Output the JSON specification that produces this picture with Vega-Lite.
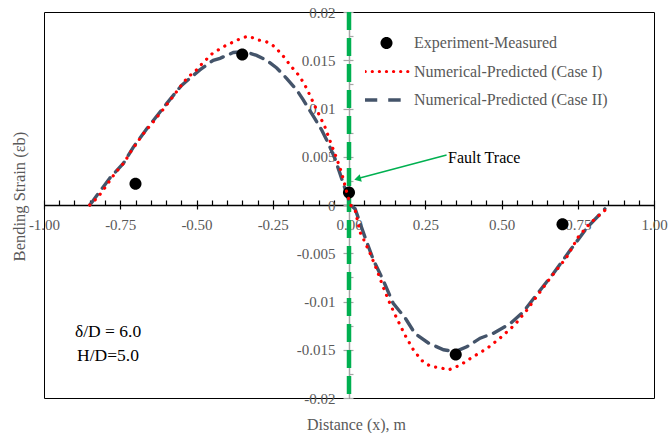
{
  "$schema": "https://vega.github.io/schema/vega-lite/v6.json",
  "autosize": "none",
  "width": 610,
  "height": 386,
  "padding": {"left": 44, "top": 12, "right": 14, "bottom": 35},
  "background": "white",
  "config": {
    "view": {"stroke": "black", "strokeWidth": 1},
    "font": "Liberation Serif",
    "axis": {"grid": false, "labelFont": "Liberation Serif", "titleFont": "Liberation Serif", "titleFontWeight": "normal", "labelFlush": false},
    "legend": {"labelFont": "Liberation Serif"},
    "style": {"guide-label": {"font": "Liberation Serif"}, "guide-title": {"font": "Liberation Serif"}}
  },
  "data": {
    "values": [
      {"series": "Experiment-Measured", "x": -0.70, "y": 0.0022},
      {"series": "Experiment-Measured", "x": -0.35, "y": 0.0156},
      {"series": "Experiment-Measured", "x": 0.0, "y": 0.0013},
      {"series": "Experiment-Measured", "x": 0.35, "y": -0.0155},
      {"series": "Experiment-Measured", "x": 0.70, "y": -0.0020},

      {"series": "Numerical-Predicted (Case I)", "x": -0.850, "y": 0.0000},
      {"series": "Numerical-Predicted (Case I)", "x": -0.830, "y": 0.0006},
      {"series": "Numerical-Predicted (Case I)", "x": -0.811, "y": 0.0013},
      {"series": "Numerical-Predicted (Case I)", "x": -0.767, "y": 0.0033},
      {"series": "Numerical-Predicted (Case I)", "x": -0.737, "y": 0.0044},
      {"series": "Numerical-Predicted (Case I)", "x": -0.716, "y": 0.0055},
      {"series": "Numerical-Predicted (Case I)", "x": -0.674, "y": 0.0074},
      {"series": "Numerical-Predicted (Case I)", "x": -0.642, "y": 0.0086},
      {"series": "Numerical-Predicted (Case I)", "x": -0.612, "y": 0.0098},
      {"series": "Numerical-Predicted (Case I)", "x": -0.585, "y": 0.0109},
      {"series": "Numerical-Predicted (Case I)", "x": -0.557, "y": 0.0121},
      {"series": "Numerical-Predicted (Case I)", "x": -0.530, "y": 0.0132},
      {"series": "Numerical-Predicted (Case I)", "x": -0.503, "y": 0.0139},
      {"series": "Numerical-Predicted (Case I)", "x": -0.483, "y": 0.0146},
      {"series": "Numerical-Predicted (Case I)", "x": -0.448, "y": 0.0157},
      {"series": "Numerical-Predicted (Case I)", "x": -0.412, "y": 0.0164},
      {"series": "Numerical-Predicted (Case I)", "x": -0.379, "y": 0.0169},
      {"series": "Numerical-Predicted (Case I)", "x": -0.352, "y": 0.0173},
      {"series": "Numerical-Predicted (Case I)", "x": -0.330, "y": 0.0175},
      {"series": "Numerical-Predicted (Case I)", "x": -0.297, "y": 0.0171},
      {"series": "Numerical-Predicted (Case I)", "x": -0.270, "y": 0.0169},
      {"series": "Numerical-Predicted (Case I)", "x": -0.243, "y": 0.0164},
      {"series": "Numerical-Predicted (Case I)", "x": -0.215, "y": 0.0154},
      {"series": "Numerical-Predicted (Case I)", "x": -0.188, "y": 0.0143},
      {"series": "Numerical-Predicted (Case I)", "x": -0.161, "y": 0.0133},
      {"series": "Numerical-Predicted (Case I)", "x": -0.139, "y": 0.0121},
      {"series": "Numerical-Predicted (Case I)", "x": -0.111, "y": 0.0102},
      {"series": "Numerical-Predicted (Case I)", "x": -0.079, "y": 0.0081},
      {"series": "Numerical-Predicted (Case I)", "x": -0.057, "y": 0.0062},
      {"series": "Numerical-Predicted (Case I)", "x": -0.040, "y": 0.0048},
      {"series": "Numerical-Predicted (Case I)", "x": -0.024, "y": 0.0033},
      {"series": "Numerical-Predicted (Case I)", "x": -0.008, "y": 0.0014},
      {"series": "Numerical-Predicted (Case I)", "x": 0.005, "y": 0.0000},
      {"series": "Numerical-Predicted (Case I)", "x": 0.020, "y": -0.0005},
      {"series": "Numerical-Predicted (Case I)", "x": 0.036, "y": -0.0028},
      {"series": "Numerical-Predicted (Case I)", "x": 0.047, "y": -0.0035},
      {"series": "Numerical-Predicted (Case I)", "x": 0.069, "y": -0.0050},
      {"series": "Numerical-Predicted (Case I)", "x": 0.091, "y": -0.0067},
      {"series": "Numerical-Predicted (Case I)", "x": 0.112, "y": -0.0085},
      {"series": "Numerical-Predicted (Case I)", "x": 0.134, "y": -0.0102},
      {"series": "Numerical-Predicted (Case I)", "x": 0.156, "y": -0.0117},
      {"series": "Numerical-Predicted (Case I)", "x": 0.184, "y": -0.0135},
      {"series": "Numerical-Predicted (Case I)", "x": 0.211, "y": -0.0150},
      {"series": "Numerical-Predicted (Case I)", "x": 0.238, "y": -0.0161},
      {"series": "Numerical-Predicted (Case I)", "x": 0.266, "y": -0.0167},
      {"series": "Numerical-Predicted (Case I)", "x": 0.304, "y": -0.0169},
      {"series": "Numerical-Predicted (Case I)", "x": 0.326, "y": -0.0171},
      {"series": "Numerical-Predicted (Case I)", "x": 0.364, "y": -0.0166},
      {"series": "Numerical-Predicted (Case I)", "x": 0.408, "y": -0.0157},
      {"series": "Numerical-Predicted (Case I)", "x": 0.451, "y": -0.0149},
      {"series": "Numerical-Predicted (Case I)", "x": 0.495, "y": -0.0138},
      {"series": "Numerical-Predicted (Case I)", "x": 0.544, "y": -0.0124},
      {"series": "Numerical-Predicted (Case I)", "x": 0.583, "y": -0.0109},
      {"series": "Numerical-Predicted (Case I)", "x": 0.615, "y": -0.0095},
      {"series": "Numerical-Predicted (Case I)", "x": 0.659, "y": -0.0076},
      {"series": "Numerical-Predicted (Case I)", "x": 0.714, "y": -0.0054},
      {"series": "Numerical-Predicted (Case I)", "x": 0.752, "y": -0.0033},
      {"series": "Numerical-Predicted (Case I)", "x": 0.790, "y": -0.0019},
      {"series": "Numerical-Predicted (Case I)", "x": 0.845, "y": -0.0004},

      {"series": "Numerical-Predicted (Case II)", "x": -0.850, "y": 0.0000},
      {"series": "Numerical-Predicted (Case II)", "x": -0.838, "y": 0.0005},
      {"series": "Numerical-Predicted (Case II)", "x": -0.784, "y": 0.0028},
      {"series": "Numerical-Predicted (Case II)", "x": -0.740, "y": 0.0043},
      {"series": "Numerical-Predicted (Case II)", "x": -0.707, "y": 0.0060},
      {"series": "Numerical-Predicted (Case II)", "x": -0.663, "y": 0.0079},
      {"series": "Numerical-Predicted (Case II)", "x": -0.598, "y": 0.0105},
      {"series": "Numerical-Predicted (Case II)", "x": -0.549, "y": 0.0124},
      {"series": "Numerical-Predicted (Case II)", "x": -0.489, "y": 0.0140},
      {"series": "Numerical-Predicted (Case II)", "x": -0.445, "y": 0.0150},
      {"series": "Numerical-Predicted (Case II)", "x": -0.423, "y": 0.0152},
      {"series": "Numerical-Predicted (Case II)", "x": -0.379, "y": 0.0158},
      {"series": "Numerical-Predicted (Case II)", "x": -0.341, "y": 0.0159},
      {"series": "Numerical-Predicted (Case II)", "x": -0.303, "y": 0.0155},
      {"series": "Numerical-Predicted (Case II)", "x": -0.270, "y": 0.0150},
      {"series": "Numerical-Predicted (Case II)", "x": -0.237, "y": 0.0142},
      {"series": "Numerical-Predicted (Case II)", "x": -0.204, "y": 0.0131},
      {"series": "Numerical-Predicted (Case II)", "x": -0.171, "y": 0.0119},
      {"series": "Numerical-Predicted (Case II)", "x": -0.150, "y": 0.0109},
      {"series": "Numerical-Predicted (Case II)", "x": -0.117, "y": 0.0092},
      {"series": "Numerical-Predicted (Case II)", "x": -0.090, "y": 0.0078},
      {"series": "Numerical-Predicted (Case II)", "x": -0.068, "y": 0.0064},
      {"series": "Numerical-Predicted (Case II)", "x": -0.046, "y": 0.0048},
      {"series": "Numerical-Predicted (Case II)", "x": -0.030, "y": 0.0033},
      {"series": "Numerical-Predicted (Case II)", "x": -0.008, "y": 0.0012},
      {"series": "Numerical-Predicted (Case II)", "x": 0.005, "y": 0.0000},
      {"series": "Numerical-Predicted (Case II)", "x": 0.020, "y": -0.0004},
      {"series": "Numerical-Predicted (Case II)", "x": 0.052, "y": -0.0033},
      {"series": "Numerical-Predicted (Case II)", "x": 0.080, "y": -0.0057},
      {"series": "Numerical-Predicted (Case II)", "x": 0.112, "y": -0.0078},
      {"series": "Numerical-Predicted (Case II)", "x": 0.145, "y": -0.0102},
      {"series": "Numerical-Predicted (Case II)", "x": 0.184, "y": -0.0117},
      {"series": "Numerical-Predicted (Case II)", "x": 0.216, "y": -0.0133},
      {"series": "Numerical-Predicted (Case II)", "x": 0.260, "y": -0.0143},
      {"series": "Numerical-Predicted (Case II)", "x": 0.310, "y": -0.0150},
      {"series": "Numerical-Predicted (Case II)", "x": 0.348, "y": -0.0152},
      {"series": "Numerical-Predicted (Case II)", "x": 0.386, "y": -0.0147},
      {"series": "Numerical-Predicted (Case II)", "x": 0.430, "y": -0.0138},
      {"series": "Numerical-Predicted (Case II)", "x": 0.473, "y": -0.0133},
      {"series": "Numerical-Predicted (Case II)", "x": 0.528, "y": -0.0123},
      {"series": "Numerical-Predicted (Case II)", "x": 0.571, "y": -0.0111},
      {"series": "Numerical-Predicted (Case II)", "x": 0.615, "y": -0.0093},
      {"series": "Numerical-Predicted (Case II)", "x": 0.670, "y": -0.0071},
      {"series": "Numerical-Predicted (Case II)", "x": 0.725, "y": -0.0047},
      {"series": "Numerical-Predicted (Case II)", "x": 0.779, "y": -0.0024},
      {"series": "Numerical-Predicted (Case II)", "x": 0.839, "y": -0.0004}
    ]
  },
  "resolve": {"axis": {"x": "independent", "y": "independent"}},
  "layer": [
    {
      "data": {"values": [{"guide": "fault line"}]},
      "mark": {"type": "rule", "color": "#00B050", "strokeWidth": 4.5, "strokeDash": [18, 8]},
      "encoding": {
        "x": {
          "datum": 0, "type": "quantitative",
          "scale": {"domain": [-1, 1], "nice": false, "zero": false},
          "axis": {
            "orient": "bottom", "offset": -193,
            "values": [-1, -0.75, -0.5, -0.25, 0, 0.25, 0.5, 0.75, 1],
            "labelExpr": "replace(format(datum.value, '.2f'), '\u2212', '-')",
            "labelFont": "Liberation Serif", "labelFontSize": 15, "labelColor": "#595959", "labelPadding": 8,
            "labelFlush": false, "labelOverlap": false,
            "tickSize": 4, "tickColor": "black", "tickWidth": 1.2,
            "domainColor": "black", "domainWidth": 1.5,
            "title": "Distance (x), m", "titleFont": "Liberation Serif", "titleFontSize": 16, "titleColor": "#595959",
            "titleX": 312, "titleY": 224, "titleBaseline": "alphabetic", "titleAlign": "center"
          }
        },
        "y": {
          "datum": 0.02, "type": "quantitative",
          "scale": {"domain": [-0.02, 0.02], "nice": false, "zero": false},
          "axis": {
            "orient": "left", "offset": -305,
            "values": [-0.02, -0.015, -0.01, -0.005, 0, 0.005, 0.01, 0.015, 0.02],
            "labelExpr": "toString(datum.value)",
            "labelFont": "Liberation Serif", "labelFontSize": 15, "labelColor": "#595959", "labelPadding": 8,
            "labelFlush": false, "labelOverlap": false,
            "tickSize": 6, "tickColor": "#A6A6A6", "tickWidth": 1.2,
            "domainColor": "#A6A6A6", "domainWidth": 1.5,
            "title": "Bending Strain (εb)", "titleFont": "Liberation Serif", "titleFontSize": 16.5, "titleColor": "#595959",
            "titleX": -325, "titleY": 184, "titleBaseline": "alphabetic", "titleAlign": "center", "titleAngle": -90
          }
        },
        "y2": {"datum": -0.02}
      }
    },
    {
      "transform": [{"filter": "datum.series === 'Numerical-Predicted (Case II)'"}],
      "mark": {"type": "line", "color": "#44546A", "strokeWidth": 3.4, "strokeDash": [13, 8], "strokeCap": "round"},
      "encoding": {
        "x": {
          "field": "x", "type": "quantitative",
          "axis": {"orient": "bottom", "offset": -193, "values": [-1, -0.95, -0.9, -0.85, -0.8, -0.75, -0.7, -0.65, -0.6, -0.55, -0.5, -0.45, -0.4, -0.35, -0.3, -0.25, -0.2, -0.15, -0.1, -0.05, 0, 0.05, 0.1, 0.15, 0.2, 0.25, 0.3, 0.35, 0.4, 0.45, 0.5, 0.55, 0.6, 0.65, 0.7, 0.75, 0.8, 0.85, 0.9, 0.95, 1], "labels": false, "domain": false, "tickSize": -5, "tickColor": "black", "tickWidth": 1.2, "title": null}
        },
        "y": {
          "field": "y", "type": "quantitative",
          "axis": {"orient": "left", "offset": -305, "values": [-0.02, -0.0175, -0.015, -0.0125, -0.01, -0.0075, -0.005, -0.0025, 0, 0.0025, 0.005, 0.0075, 0.01, 0.0125, 0.015, 0.0175, 0.02], "labels": false, "domain": false, "tickSize": -4, "tickColor": "#A6A6A6", "tickWidth": 1.2, "title": null}
        }
      }
    },
    {
      "transform": [{"filter": "datum.series === 'Experiment-Measured'"}],
      "mark": {"type": "point", "filled": true, "size": 1849, "opacity": 1, "strokeWidth": 0},
      "encoding": {
        "x": {"field": "x", "type": "quantitative", "axis": null},
        "y": {"field": "y", "type": "quantitative", "axis": null},
        "color": {
          "field": "series", "type": "nominal",
          "scale": {
            "domain": ["Experiment-Measured", "Numerical-Predicted (Case I)", "Numerical-Predicted (Case II)"],
            "range": ["black", "#FF0000", "#44546A"]
          },
          "legend": {
            "title": null, "orient": "none", "legendX": 321, "legendY": 22,
            "padding": 0, "symbolSize": 1849, "labelOffset": 6, "rowPadding": 10.5, "clipHeight": 18,
            "symbolStrokeWidth": 0, "symbolOpacity": 1,
            "labelFont": "Liberation Serif", "labelFontSize": 16, "labelColor": "#595959", "labelLimit": 400
          }
        },
        "shape": {
          "field": "series", "type": "nominal",
          "scale": {
            "domain": ["Experiment-Measured", "Numerical-Predicted (Case I)", "Numerical-Predicted (Case II)"],
            "range": [
              "M-0.28,0A0.28,0.28,0,1,1,0.28,0A0.28,0.28,0,1,1,-0.28,0Z",
              "M-1.065,0A0.075,0.075,0,1,1,-0.915,0A0.075,0.075,0,1,1,-1.065,0ZM-0.735,0A0.075,0.075,0,1,1,-0.585,0A0.075,0.075,0,1,1,-0.735,0ZM-0.405,0A0.075,0.075,0,1,1,-0.255,0A0.075,0.075,0,1,1,-0.405,0ZM-0.075,0A0.075,0.075,0,1,1,0.075,0A0.075,0.075,0,1,1,-0.075,0ZM0.255,0A0.075,0.075,0,1,1,0.405,0A0.075,0.075,0,1,1,0.255,0ZM0.585,0A0.075,0.075,0,1,1,0.735,0A0.075,0.075,0,1,1,0.585,0ZM0.915,0A0.075,0.075,0,1,1,1.065,0A0.075,0.075,0,1,1,0.915,0Z",
              "M-1,-0.08L-0.43,-0.08L-0.43,0.08L-1,0.08ZM0.08,-0.08L0.66,-0.08L0.66,0.08L0.08,0.08Z"
            ]
          },
          "legend": {
            "title": null, "orient": "none", "legendX": 321, "legendY": 22,
            "padding": 0, "symbolSize": 1849, "labelOffset": 6, "rowPadding": 10.5, "clipHeight": 18,
            "symbolStrokeWidth": 0, "symbolOpacity": 1,
            "labelFont": "Liberation Serif", "labelFontSize": 16, "labelColor": "#595959", "labelLimit": 400
          }
        }
      }
    },
    {
      "transform": [{"filter": "datum.series === 'Numerical-Predicted (Case I)'"}],
      "mark": {"type": "line", "color": "#FF0000", "strokeWidth": 3.2, "strokeDash": [0.1, 7.4], "strokeCap": "round"},
      "encoding": {
        "x": {"field": "x", "type": "quantitative", "axis": null},
        "y": {"field": "y", "type": "quantitative", "axis": null}
      }
    },
    {
      "data": {"values": [{"guide": "arrow"}]},
      "mark": {"type": "rule", "color": "#00B050", "strokeWidth": 1.5},
      "encoding": {
        "x": {"datum": 0.320, "type": "quantitative", "axis": null},
        "y": {"datum": 0.00518, "type": "quantitative", "axis": null},
        "x2": {"datum": 0.026},
        "y2": {"datum": 0.00272}
      }
    },
    {
      "data": {"values": [{"guide": "arrowhead"}]},
      "mark": {"type": "point", "shape": "triangle-up", "filled": true, "color": "#00B050", "size": 60, "angle": 254.5, "opacity": 1},
      "encoding": {
        "x": {"datum": 0.028, "type": "quantitative", "axis": null},
        "y": {"datum": 0.0027, "type": "quantitative", "axis": null}
      }
    },
    {
      "data": {"values": [{"guide": "label"}]},
      "mark": {"type": "text", "text": "Fault Trace", "align": "left", "baseline": "alphabetic", "font": "Liberation Serif", "fontSize": 16, "color": "black"},
      "encoding": {
        "x": {"datum": 0.3246, "type": "quantitative", "axis": null},
        "y": {"datum": 0.00435, "type": "quantitative", "axis": null}
      }
    },
    {
      "data": {"values": [{"guide": "note"}]},
      "mark": {"type": "text", "text": ["δ/D = 6.0", "H/D=5.0"], "align": "center", "baseline": "alphabetic", "lineHeight": 24, "font": "Liberation Serif", "fontSize": 17.5, "color": "black"},
      "encoding": {
        "x": {"datum": -0.79, "type": "quantitative", "axis": null},
        "y": {"datum": -0.01368, "type": "quantitative", "axis": null}
      }
    }
  ]
}
